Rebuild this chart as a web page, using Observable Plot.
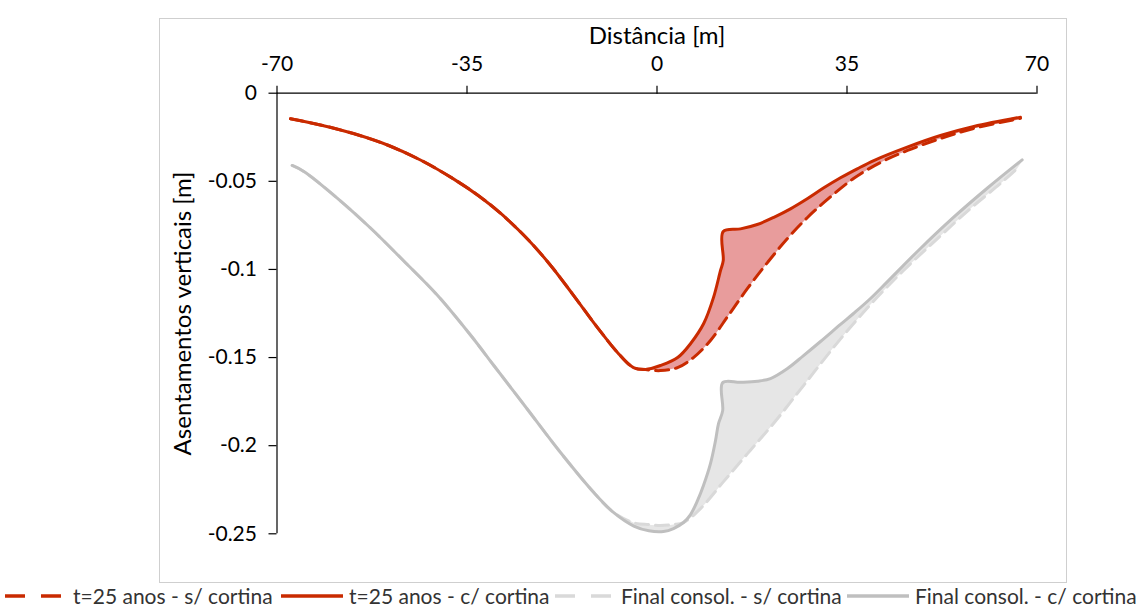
<!DOCTYPE html>
<html>
<head>
<meta charset="utf-8">
<script src="https://cdn.jsdelivr.net/npm/d3@7"></script>
<script src="https://cdn.jsdelivr.net/npm/@observablehq/plot@0.6"></script>
<style>
  html, body { margin: 0; padding: 0; background: #fff; }
  #wrap { position: relative; width: 1145px; height: 607px; overflow: hidden; font-family: Lato, "Open Sans", sans-serif; }
  #chart { position: absolute; left: 0; top: 0; }
  #frame { position: absolute; left: 159px; top: 18px; width: 906px; height: 563px; border: 1px solid #CFCFCF; pointer-events: none; }
  .leg { position: absolute; top: 585px; height: 21px; line-height: 21px; display: flex; align-items: center; font-size: 21px; color: #333; white-space: nowrap; }
  .leg svg { margin-right: 6px; }
</style>
</head>
<body>
<div id="wrap">
  <div id="chart"></div>
  <div id="frame"></div>
  <div id="legend"></div>
</div>
<script>
// ---------- data ----------
const xTitle = "Distância [m]";
const yTitle = "Asentamentos verticais [m]";
const xTicks = [-70, -35, 0, 35, 70];
const xTickLabels = ["-70", "-35", "0", "35", "70"];
const yTicks = [0, -0.05, -0.1, -0.15, -0.2, -0.25];
const yTickLabels = ["0", "-0.05", "-0.1", "-0.15", "-0.2", "-0.25"];

const seriesNames = ["t=25 anos - s/ cortina", "t=25 anos - c/ cortina", "Final consol. - s/ cortina", "Final consol. - c/ cortina"];

// left branch shared by both t=25 anos curves
const redLeftX = [-67.52, -62.0, -55.92, -49.66, -43.58, -37.5, -32.5, -28.83, -23.86, -19.62, -15.38, -10.96, -7.28, -4.33, -2.12];
const redLeftY = [-0.0145, -0.0180, -0.0229, -0.0294, -0.0379, -0.0486, -0.0590, -0.0681, -0.0827, -0.0976, -0.1147, -0.1330, -0.1471, -0.1557, -0.1568];

// right branch, t=25 anos - c/ cortina
const redSolidX = [0.64, 3.8, 6.2, 8.6, 10.4, 11.7, 12.2, 12.2, 15.38, 18.46, 21.52, 24.59, 27.67, 30.73, 33.8, 36.88, 39.94, 46.09, 52.22, 58.36, 66.96];
const redSolidY = [-0.1545, -0.1500, -0.1420, -0.1307, -0.1160, -0.1006, -0.0950, -0.0785, -0.0770, -0.0745, -0.0704, -0.0656, -0.0599, -0.0537, -0.0480, -0.0429, -0.0382, -0.0306, -0.0240, -0.0189, -0.0136];

// right branch, t=25 anos - s/ cortina
const redDashX = [0.64, 3.78, 6.72, 9.85, 12.99, 16.67, 20.35, 24.04, 27.72, 31.4, 36.2, 41.17, 46.15, 52.22, 58.3, 66.96];
const redDashY = [-0.1574, -0.1557, -0.1500, -0.1403, -0.1268, -0.1108, -0.0961, -0.0824, -0.0705, -0.0603, -0.0484, -0.0393, -0.0325, -0.0257, -0.0200, -0.0143];

// left branch shared by both Final consol. curves
const greyLeftX = [-67.2, -65.06, -58.91, -52.78, -46.64, -40.49, -34.36, -30.06, -23.91, -17.77, -11.64, -7.96];
const greyLeftY = [-0.0410, -0.0444, -0.0595, -0.0765, -0.0952, -0.1145, -0.1372, -0.1545, -0.1792, -0.2039, -0.2266, -0.2380];

// right branch, Final consol. - c/ cortina
const greySolidX = [-4.27, -1.5, 1.2, 3.04, 4.88, 6.17, 7.46, 8.56, 9.85, 10.78, 11.33, 12.1, 12.1, 15.4, 18.5, 20.91, 24.04, 26.99, 30.12, 33.8, 36.2, 39.33, 42.46, 48.53, 54.61, 60.88, 67.27];
const greySolidY = [-0.2456, -0.2483, -0.2487, -0.2470, -0.2436, -0.2391, -0.2312, -0.2226, -0.2102, -0.1971, -0.1875, -0.1801, -0.1642, -0.1640, -0.1634, -0.1619, -0.1562, -0.1489, -0.1409, -0.1312, -0.1250, -0.1165, -0.1069, -0.0881, -0.0705, -0.0538, -0.0378];

// right branch, Final consol. - s/ cortina
const greyDashX = [-4.27, -1.5, 0.64, 3.0, 4.88, 8.01, 12.25, 16.67, 21.46, 26.99, 33.25, 39.33, 45.41, 51.67, 57.75, 63.28, 66.35];
const greyDashY = [-0.2438, -0.2448, -0.2453, -0.2447, -0.2436, -0.2357, -0.2204, -0.2045, -0.1874, -0.1659, -0.1415, -0.1199, -0.1006, -0.0825, -0.0654, -0.0512, -0.0427];

// ---------- build tables ----------
const pts = (xs, ys) => xs.map((x, i) => ({x, y: ys[i]}));
const redLeft = pts(redLeftX, redLeftY);
const greyLeft = pts(greyLeftX, greyLeftY);
const redSolid = redLeft.concat(pts(redSolidX, redSolidY));
const redDash = redLeft.concat(pts(redDashX, redDashY));
const greySolid = greyLeft.concat(pts(greySolidX, greySolidY));
const greyDash = greyLeft.concat(pts(greyDashX, greyDashY));
// filled band between the two right branches
const redBand = [redLeft[redLeft.length - 1]].concat(pts(redSolidX, redSolidY), pts(redDashX, redDashY).reverse());
const greyBand = [greyLeft[greyLeft.length - 1]].concat(pts(greySolidX, greySolidY), pts(greyDashX, greyDashY).reverse());

const RED = "#C92A00", PINK = "#E89C9C", GREY = "#BFBFBF", LGREY = "#D9D9D9", GFILL = "#E6E6E6";
const curve = "catmull-rom";
const SW = 3, DASH = "13,7";

const H = 585;
const chart = Plot.plot({
  width: 1145,
  height: H,
  marginLeft: 276.5,
  marginRight: 108.5,
  marginTop: 92.7,
  marginBottom: H - 533.3,
  x: {domain: [-70, 70]},
  y: {domain: [-0.25, 0]},
  style: {fontFamily: "Lato, 'Open Sans', sans-serif", fontSize: "21px", color: "#000", background: "transparent"},
  marks: [
    Plot.line(redBand, {x: "x", y: "y", fill: PINK, stroke: "none", curve}),
    Plot.line(greyBand, {x: "x", y: "y", fill: GFILL, stroke: "none", curve}),
    Plot.line(greyDash, {x: "x", y: "y", stroke: LGREY, strokeWidth: SW, strokeDasharray: DASH, curve}),
    Plot.line(greySolid, {x: "x", y: "y", stroke: GREY, strokeWidth: SW, curve}),
    Plot.line(redDash, {x: "x", y: "y", stroke: RED, strokeWidth: SW, strokeDasharray: DASH, curve}),
    Plot.line(redSolid, {x: "x", y: "y", stroke: RED, strokeWidth: SW, curve}),
    Plot.ruleY([0], {stroke: "#000", strokeWidth: 1.2}),
    Plot.ruleX([-70], {stroke: "#000", strokeWidth: 1.2}),
    Plot.axisX({anchor: "top", ticks: xTicks, tickSize: 8, tickPadding: 14, label: null,
      tickFormat: d => xTickLabels[xTicks.indexOf(d)], stroke: "#000", strokeWidth: 1.2, fill: "#000"}),
    Plot.axisY({anchor: "left", ticks: yTicks, tickSize: 8, tickPadding: 12, label: null,
      tickFormat: d => yTickLabels[yTicks.indexOf(d)], stroke: "#000", strokeWidth: 1.2, fill: "#000"}),
    Plot.text([xTitle], {frameAnchor: "top", dy: -66.5, text: d => d, fontSize: 24, fill: "#000"}),
    Plot.text([yTitle], {frameAnchor: "left", dx: -93.5, rotate: -90, textAnchor: "middle", text: d => d, fontSize: 24, fill: "#000"})
  ]
});
document.getElementById("chart").appendChild(chart);

// ---------- legend ----------
const legendItems = [
  {name: seriesNames[0], color: RED, dash: "20,16", left: 5, w: 62},
  {name: seriesNames[1], color: RED, dash: null, left: 281, w: 62},
  {name: seriesNames[2], color: LGREY, dash: "20,16", left: 555, w: 60},
  {name: seriesNames[3], color: GREY, dash: null, left: 847, w: 62}
];
const legend = document.getElementById("legend");
legendItems.forEach(it => {
  const div = document.createElement("div");
  div.className = "leg";
  div.style.left = it.left + "px";
  div.innerHTML = `<svg width="${it.w}" height="10"><line x1="0" x2="${it.w}" y1="5" y2="5" stroke="${it.color}" stroke-width="3.5" ${it.dash ? `stroke-dasharray="${it.dash}"` : ""}/></svg><span>${it.name}</span>`;
  legend.appendChild(div);
});
</script>
</body>
</html>
